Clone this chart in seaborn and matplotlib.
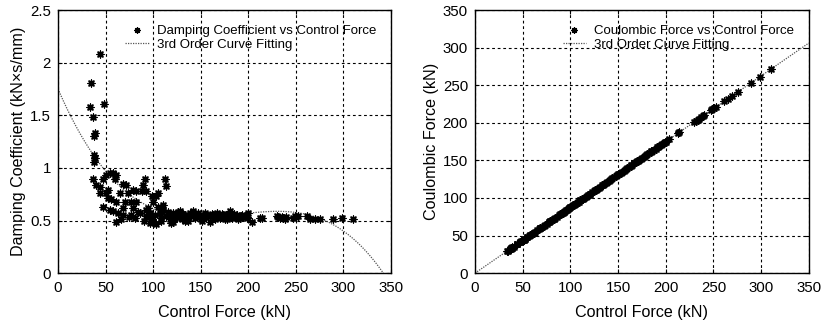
import numpy as np
import pandas as pd
import matplotlib
matplotlib.use("Agg")
import matplotlib.pyplot as plt
import seaborn as sns

# Measured control force (kN), with the corresponding damping coefficient
# (kN x s/mm) and Coulombic force (kN) for each record.
control_force = [
    34.4, 34.0, 36.9, 37.2, 37.5, 38.0, 38.3, 38.6, 39.0, 40.4,
    43.9, 43.9, 44.5, 47.4, 47.4, 48.1, 50.9, 50.9, 52.6, 52.6,
    54.4, 54.4, 56.2, 58.0, 58.0, 59.7, 61.4, 61.4, 61.4, 63.2,
    64.9, 66.7, 68.4, 68.4, 68.4, 70.2, 72.0, 73.7, 75.0, 77.2,
    77.2, 79.0, 79.0, 80.7, 82.5, 82.5, 84.0, 86.0, 87.8, 89.5,
    90.0, 91.3, 92.0, 93.0, 93.0, 94.8, 96.5, 97.0, 98.3, 98.3,
    100.0, 100.0, 101.8, 103.0, 103.5, 105.3, 105.3, 107.0, 108.8, 110.6,
    110.6, 112.3, 113.4, 114.0, 116.0, 117.6, 119.0, 121.0, 121.0, 123.0,
    124.6, 126.0, 128.0, 130.0, 131.5, 133.4, 135.0, 137.0, 138.6, 140.0,
    142.0, 144.0, 145.7, 147.5, 149.0, 151.0, 152.7, 154.4, 156.0, 158.0,
    159.7, 161.5, 163.2, 165.0, 166.7, 168.5, 170.2, 172.0, 173.7, 175.5,
    177.2, 179.0, 180.8, 182.5, 184.3, 186.0, 187.8, 189.5, 191.3, 193.0,
    194.8, 196.6, 198.3, 200.0, 203.6, 212.4, 214.0, 230.0, 231.5, 233.4,
    235.0, 237.0, 238.7, 240.0, 247.5, 249.0, 250.5, 252.7, 261.5, 265.0,
    270.0, 275.5, 289.6, 298.4, 310.0,
    95.5, 108.0, 118.0, 127.0, 134.0, 143.0, 150.0, 157.0, 164.0, 171.0,
    178.0, 185.0, 192.0, 199.0,
]
damping_coeff = [
    1.81, 1.58, 0.89, 1.48, 1.30, 1.12, 1.06, 1.09, 1.33, 0.84,
    2.08, 0.82, 0.76, 0.63, 0.89, 1.61, 0.93, 0.76, 0.79, 0.71,
    0.95, 0.60, 0.70, 0.95, 0.59, 0.89, 0.93, 0.68, 0.49, 0.57,
    0.76, 0.51, 0.55, 0.62, 0.85, 0.68, 0.84, 0.76, 0.53, 0.68,
    0.55, 0.79, 0.62, 0.52, 0.68, 0.78, 0.58, 0.57, 0.78, 0.84,
    0.50, 0.89, 0.60, 0.78, 0.54, 0.62, 0.57, 0.48, 0.51, 0.73,
    0.49, 0.68, 0.55, 0.47, 0.73, 0.76, 0.63, 0.57, 0.52, 0.65,
    0.60, 0.89, 0.83, 0.54, 0.58, 0.51, 0.48, 0.57, 0.49, 0.52,
    0.54, 0.58, 0.59, 0.51, 0.56, 0.55, 0.52, 0.50, 0.57, 0.54,
    0.59, 0.52, 0.54, 0.57, 0.55, 0.50, 0.52, 0.57, 0.53, 0.54,
    0.49, 0.56, 0.55, 0.51, 0.57, 0.54, 0.52, 0.56, 0.55, 0.51,
    0.54, 0.56, 0.59, 0.52, 0.54, 0.53, 0.55, 0.51, 0.52, 0.55,
    0.53, 0.54, 0.52, 0.57, 0.49, 0.52, 0.52, 0.54, 0.53, 0.52,
    0.53, 0.52, 0.51, 0.53, 0.52, 0.54, 0.53, 0.54, 0.54, 0.51,
    0.51, 0.51, 0.51, 0.52, 0.51,
    0.53, 0.50, 0.55, 0.53, 0.50, 0.56, 0.51, 0.55, 0.52, 0.54,
    0.51, 0.56, 0.54, 0.53,
]
coulombic_force = [
    30.1, 29.8, 32.3, 32.6, 32.8, 33.3, 33.5, 33.8, 34.1, 35.4,
    38.4, 38.4, 38.9, 41.5, 41.5, 42.1, 44.5, 44.5, 46.0, 46.0,
    47.6, 47.6, 49.2, 50.8, 50.8, 52.2, 53.7, 53.7, 53.7, 55.3,
    56.8, 58.4, 59.9, 59.9, 59.9, 61.4, 63.0, 64.5, 65.6, 67.6,
    67.6, 69.1, 69.1, 70.6, 72.2, 72.2, 73.5, 75.3, 76.8, 78.3,
    78.8, 79.9, 80.5, 81.4, 81.4, 83.0, 84.4, 84.9, 86.0, 86.0,
    87.5, 87.5, 89.1, 90.1, 90.6, 92.1, 92.1, 93.6, 95.2, 96.8,
    96.8, 98.3, 99.2, 99.8, 101.5, 102.9, 104.1, 105.9, 105.9, 107.6,
    109.0, 110.3, 112.0, 113.8, 115.1, 116.7, 118.1, 119.9, 121.3, 122.5,
    124.3, 126.0, 127.5, 129.1, 130.4, 132.1, 133.6, 135.1, 136.5, 138.3,
    139.7, 141.3, 142.8, 144.4, 145.9, 147.4, 148.9, 150.5, 152.0, 153.6,
    155.1, 156.6, 158.2, 159.7, 161.3, 162.8, 164.3, 165.8, 167.4, 168.9,
    170.5, 172.0, 173.5, 175.0, 178.2, 185.9, 187.3, 201.3, 202.6, 204.2,
    205.6, 207.4, 208.9, 210.0, 216.6, 217.9, 219.2, 221.1, 228.8, 231.9,
    236.3, 241.1, 253.4, 261.1, 271.3,
    83.5, 94.5, 103.3, 111.1, 117.3, 125.1, 131.3, 137.4, 143.5, 149.6,
    155.8, 161.9, 168.0, 174.1,
]

# Cubic fit coefficients (highest power first)
damping_fit_coef = [-2.0251e-7, 1.15285e-4, -2.0858e-2, 1.75]
coulombic_fit_coef = [0.0, 0.0, 0.8745, 0.0]

x_ticks = [0, 50, 100, 150, 200, 250, 300, 350]
left_ticks_y = [0, 0.5, 1, 1.5, 2, 2.5]
left_tick_labels_y = ["0", "0.5", "1", "1.5", "2", "2.5"]
right_ticks_y = [0, 50, 100, 150, 200, 250, 300, 350]

sns.set_theme(style="white")
plt.rcParams["font.family"] = ["Liberation Sans", "DejaVu Sans"]
plt.rcParams["text.color"] = "black"
plt.rcParams["axes.labelcolor"] = "black"
plt.rcParams["xtick.color"] = "black"
plt.rcParams["ytick.color"] = "black"

df = pd.DataFrame({
    "Control Force": control_force,
    "Damping": damping_coeff,
    "Coulombic": coulombic_force,
})

x_fit = np.linspace(0, 350, 400)
fit_df = pd.DataFrame({
    "x": x_fit,
    "damping": np.polyval(damping_fit_coef, x_fit),
    "coulombic": np.polyval(coulombic_fit_coef, x_fit),
})

fig = plt.figure(figsize=(8.24, 3.24), dpi=100)
ax1 = fig.add_axes([0.0704, 0.157, 0.404, 0.812])
ax2 = fig.add_axes([0.5765, 0.157, 0.405, 0.812])

star = (8, 2, 0)

panels = [
    (ax1, "Damping", "damping", "Damping Coefficient vs Control Force",
     "Damping Coefficient (kN\u00d7s/mm)", (0, 2.5), left_ticks_y, left_tick_labels_y),
    (ax2, "Coulombic", "coulombic", "Coulombic Force vs Control Force",
     "Coulombic Force (kN)", (0, 350), right_ticks_y, [str(v) for v in right_ticks_y]),
]

for ax, col, fcol, lab, ylab, ylim, yt, ytl in panels:
    sns.lineplot(data=fit_df, x="x", y=fcol, ax=ax, color="#555555",
                 linestyle=(0, (1, 1)), linewidth=0.9,
                 label="3rd Order Curve Fitting", zorder=2)
    sns.scatterplot(data=df, x="Control Force", y=col, ax=ax, marker=star,
                    s=24, color="black", edgecolor="black", linewidth=1.0,
                    label=lab, zorder=3)
    ax.set_xlim(0, 350)
    ax.set_ylim(*ylim)
    ax.set_xticks(x_ticks)
    ax.set_xticklabels([str(v) for v in x_ticks])
    ax.set_yticks(yt)
    ax.set_yticklabels(ytl)
    ax.grid(True, color="black", linestyle=(0, (2.5, 2.5)), linewidth=0.8)
    ax.set_axisbelow(True)
    ax.set_xlabel("Control Force (kN)", fontsize=11.6, labelpad=7)
    ax.set_ylabel(ylab, fontsize=11.6, labelpad=3)
    ax.tick_params(axis="both", labelsize=10.8, direction="in", length=3,
                   width=0.8, color="black", top=True, right=True,
                   bottom=True, left=True)
    ax.tick_params(axis="x", pad=6)
    ax.tick_params(axis="y", pad=5)
    for sp in ax.spines.values():
        sp.set_color("black")
        sp.set_linewidth(1.0)
    handles, labels = ax.get_legend_handles_labels()
    order = [labels.index(lab), labels.index("3rd Order Curve Fitting")]
    ax.legend([handles[i] for i in order], [labels[i] for i in order],
              loc="upper right", frameon=False, fontsize=9.5,
              handlelength=1.8, handletextpad=0.6, labelspacing=0.15,
              borderpad=0.5, borderaxespad=0.6, markerscale=0.8)

fig.savefig("out.png", dpi=100)
